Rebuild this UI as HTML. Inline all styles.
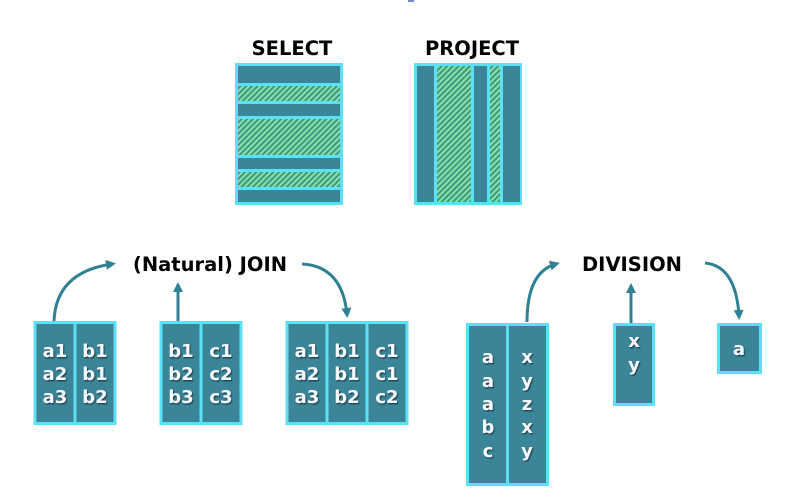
<!DOCTYPE html>
<html><head><meta charset="utf-8"><style>
html,body{margin:0;padding:0;background:#fff;}
svg{display:block;}
.t{font-family:"DejaVu Sans","Liberation Sans",sans-serif;font-weight:bold;font-size:19.5px;fill:#000;text-anchor:middle;}
.c{font-family:"DejaVu Sans","Liberation Sans",sans-serif;font-weight:bold;font-size:18px;fill:#f4f8ff;text-anchor:middle;}
</style></head><body>
<svg width="799" height="495" viewBox="0 0 799 495" xmlns="http://www.w3.org/2000/svg">
<defs>
<pattern id="h" width="4" height="4" patternUnits="userSpaceOnUse" patternTransform="rotate(45)">
<rect width="4" height="4" fill="#44948a"/><rect width="2" height="4" fill="#80e6a0"/>
</pattern>
<marker id="ah" markerWidth="10" markerHeight="10" refX="6" refY="5" orient="auto" markerUnits="userSpaceOnUse">
<path d="M0,0 L10,5 L0,10 Z" fill="#2f8193"/>
</marker>
<filter id="sh"><feDropShadow dx="1" dy="1.2" stdDeviation="0.4" flood-color="#13333c" flood-opacity="0.9"/></filter>
</defs>
<rect x="408" y="0" width="6" height="2" fill="#6b8fc4"/>
<text class="t" x="292" y="55">SELECT</text>
<text class="t" x="472" y="55">PROJECT</text>
<!-- SELECT -->
<rect x="235" y="63" width="108" height="142" fill="#5ce0f5"/>
<rect x="238" y="66" width="102" height="17" fill="#3a8598"/>
<rect x="238" y="86" width="102" height="15" fill="url(#h)"/>
<rect x="238" y="104" width="102" height="12" fill="#3a8598"/>
<rect x="238" y="119" width="102" height="36" fill="url(#h)"/>
<rect x="238" y="158" width="102" height="11" fill="#3a8598"/>
<rect x="238" y="172" width="102" height="15" fill="url(#h)"/>
<rect x="238" y="190" width="102" height="12" fill="#3a8598"/>
<!-- PROJECT -->
<rect x="414" y="63" width="108" height="142" fill="#5ce0f5"/>
<rect x="417" y="66" width="17" height="136" fill="#3a8598"/>
<rect x="437" y="66" width="34" height="136" fill="url(#h)"/>
<rect x="474" y="66" width="13" height="136" fill="#3a8598"/>
<rect x="490" y="66" width="10" height="136" fill="url(#h)"/>
<rect x="503" y="66" width="17" height="136" fill="#3a8598"/>

<text class="t" x="210" y="271">(Natural) JOIN</text>
<text class="t" x="632" y="271">DIVISION</text>

<g stroke="#2f8193" stroke-width="3" fill="none" marker-end="url(#ah)">
<path d="M54,321 Q56,272 112,264"/>
<path d="M178,321 L178,286"/>
<path d="M302,264 Q342,266 347,314"/>
<path d="M527,322 Q527,272 556,264"/>
<path d="M631,324 L631,287"/>
<path d="M705,263 Q736,266 739,316"/>
</g>

<g fill="#3a8598" stroke="#5ce0f5" stroke-width="3">
<rect x="35" y="322.5" width="40" height="101"/><rect x="75" y="322.5" width="40" height="101"/>
<rect x="161" y="322.5" width="40" height="101"/><rect x="201" y="322.5" width="40" height="101"/>
<rect x="287" y="322.5" width="40" height="101"/><rect x="327" y="322.5" width="40" height="101"/><rect x="367" y="322.5" width="40" height="101"/>
<rect x="467.5" y="324.5" width="40" height="160"/><rect x="507.5" y="324.5" width="40" height="160"/>
<rect x="614.5" y="324.5" width="39" height="80"/>
<rect x="718.5" y="324.5" width="42" height="48"/>
</g>
<g class="c" filter="url(#sh)">
<text class="c" x="55" y="357">a1</text><text class="c" x="55" y="380">a2</text><text class="c" x="55" y="403">a3</text>
<text class="c" x="95" y="357">b1</text><text class="c" x="95" y="380">b1</text><text class="c" x="95" y="403">b2</text>
<text class="c" x="181" y="357">b1</text><text class="c" x="181" y="380">b2</text><text class="c" x="181" y="403">b3</text>
<text class="c" x="221" y="357">c1</text><text class="c" x="221" y="380">c2</text><text class="c" x="221" y="403">c3</text>
<text class="c" x="307" y="357">a1</text><text class="c" x="307" y="380">a2</text><text class="c" x="307" y="403">a3</text>
<text class="c" x="347" y="357">b1</text><text class="c" x="347" y="380">b1</text><text class="c" x="347" y="403">b2</text>
<text class="c" x="387" y="357">c1</text><text class="c" x="387" y="380">c1</text><text class="c" x="387" y="403">c2</text>
<text class="c" x="488" y="363">a</text><text class="c" x="488" y="387">a</text><text class="c" x="488" y="410">a</text><text class="c" x="488" y="433">b</text><text class="c" x="488" y="457">c</text>
<text class="c" x="527" y="363">x</text><text class="c" x="527" y="387">y</text><text class="c" x="527" y="410">z</text><text class="c" x="527" y="433">x</text><text class="c" x="527" y="457">y</text>
<text class="c" x="634" y="347">x</text><text class="c" x="634" y="371">y</text>
<text class="c" x="739" y="355">a</text>
</g>
</svg>
</body></html>
